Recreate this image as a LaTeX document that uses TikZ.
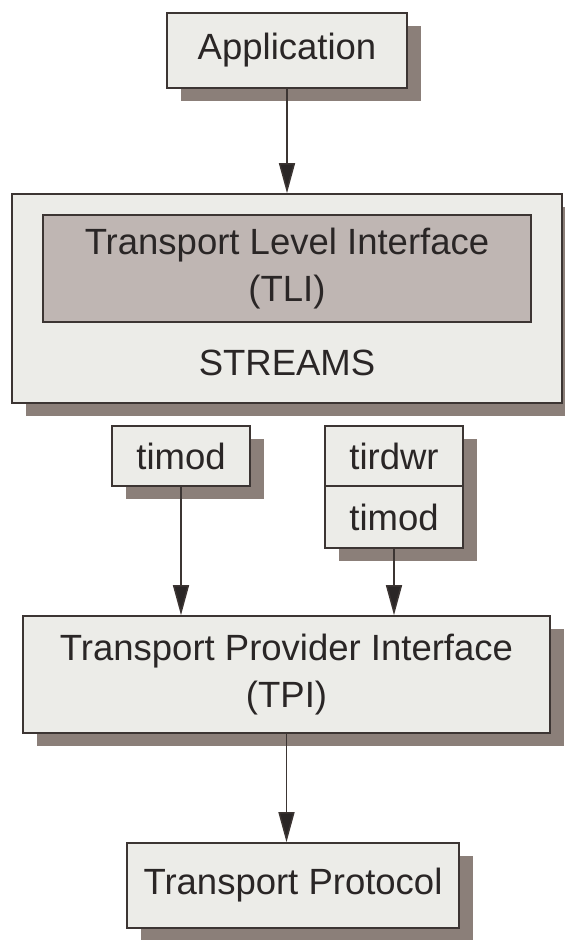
\documentclass[tikz,border=0pt]{standalone}
\usepackage{fontspec}
\setmainfont{Liberation Sans}
\usetikzlibrary{arrows.meta,shadows}

\definecolor{boxfill}{HTML}{ECECE8}
\definecolor{tlifill}{HTML}{BFB6B3}
\definecolor{boxline}{HTML}{3C3533}
\definecolor{shadowc}{HTML}{8B7F79}
\definecolor{inkc}{HTML}{2A2626}

\tikzset{
  x=1pt, y=1pt,
  every node/.style={font=\fontsize{36.5}{47}\selectfont, text=inkc, inner sep=0pt},
  plainbox/.style={draw=boxline, line width=1.6pt, fill=boxfill, rectangle},
  shadowbox/.style={plainbox,
    general shadow={shadow xshift=14pt, shadow yshift=-13pt, fill=shadowc}},
  flow/.style={draw=boxline, line width=1.5pt,
    -{Triangle[length=30pt,width=16pt,fill=inkc]}},
}

\begin{document}
\begin{tikzpicture}
\useasboundingbox (0,0) rectangle (565,-940);

% top-level application
\node[shadowbox, minimum width=240pt, minimum height=75pt] (app) at (287,-50.5) {Application};

% STREAMS container with the TLI library inside
\node[shadowbox, minimum width=550pt, minimum height=209pt] (streams) at (287,-298.5) {};
\node[plainbox, fill=tlifill, minimum width=488pt, minimum height=107pt,
      align=center] (tli) at (287,-268.5) {Transport Level Interface\\(TLI)};
\node (streamslbl) at (287,-363) {STREAMS};

% pushed modules
\node[shadowbox, minimum width=138pt, minimum height=60pt] (timodA) at (181,-456) {timod};
\node[shadowbox, minimum width=138pt, minimum height=60pt] (tirdwr) at (394,-456) {tirdwr};
\node[shadowbox, minimum width=138pt, minimum height=62pt] (timodB) at (394,-517) {timod};

% provider interface and protocol
\node[shadowbox, minimum width=527pt, minimum height=117pt, align=center]
  (tpi) at (286.5,-674.5) {Transport Provider Interface\\(TPI)};
\node[shadowbox, minimum width=332pt, minimum height=85pt] (tp) at (293,-885.5) {Transport Protocol};

% connectors
\draw[flow] (app.south) -- (app.south |- streams.north);
\draw[flow] (timodA.south) -- (timodA.south |- tpi.north);
\draw[flow] (timodB.south) -- (timodB.south |- tpi.north);
\draw[flow] (tpi.south) -- (tpi.south |- tp.north);
\end{tikzpicture}
\end{document}
